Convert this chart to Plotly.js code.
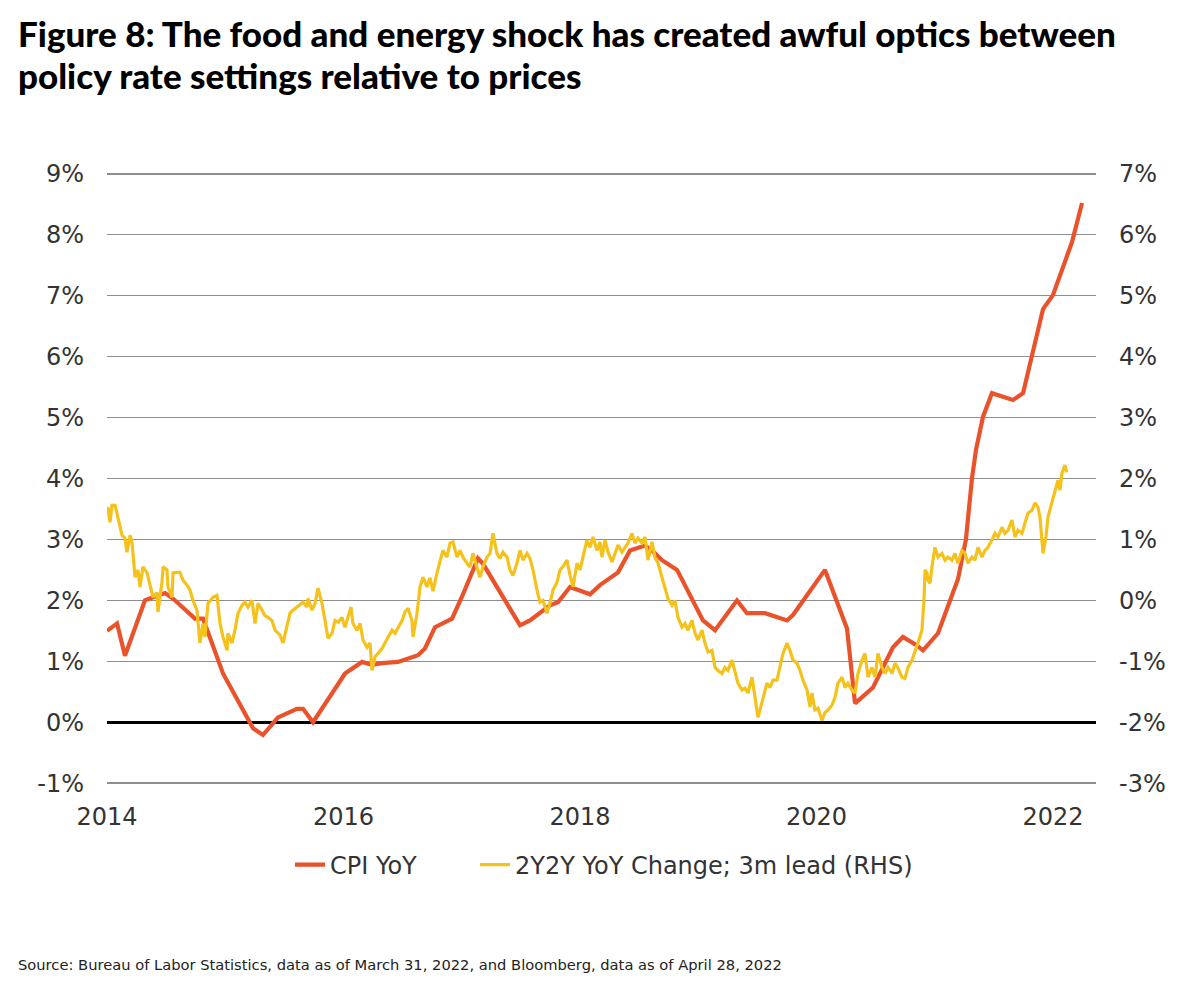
<!DOCTYPE html>
<html>
<head>
<meta charset="utf-8">
<script src="https://cdn.plot.ly/plotly-3.0.1.min.js"></script>
<style>
  html, body { margin: 0; padding: 0; background: #ffffff; }
  #chart { width: 1190px; height: 1002px; }
</style>
</head>
<body>
<div id="chart"></div>
<script>
// ---------- DATA ----------
// x values are decimal years
const xTickVals = [2014, 2016, 2018, 2020, 2022];
const xTickText = ['2014', '2016', '2018', '2020', '2022'];
const leftTickVals = [-1, 0, 1, 2, 3, 4, 5, 6, 7, 8, 9];
const leftTickText = ['-1%', '0%', '1%', '2%', '3%', '4%', '5%', '6%', '7%', '8%', '9%'];
const rightTickVals = [-3, -2, -1, 0, 1, 2, 3, 4, 5, 6, 7];
const rightTickText = ['-3%', '-2%', '-1%', '0%', '1%', '2%', '3%', '4%', '5%', '6%', '7%'];

const cpiName = 'CPI YoY';
const cpiYear = [2014.000, 2014.085, 2014.152, 2014.321, 2014.389, 2014.491, 2014.558, 2014.744, 2014.812, 2014.981,
  2015.235, 2015.319, 2015.446, 2015.607, 2015.658, 2015.742, 2016.013, 2016.157, 2016.241, 2016.326,
  2016.461, 2016.630, 2016.689, 2016.774, 2016.918, 2017.002, 2017.137, 2017.180, 2017.493, 2017.577,
  2017.746, 2017.814, 2017.916, 2018.085, 2018.169, 2018.322, 2018.423, 2018.550, 2018.609, 2018.694,
  2018.821, 2018.947, 2019.040, 2019.142, 2019.328, 2019.412, 2019.565, 2019.751, 2019.801, 2020.072,
  2020.258, 2020.326, 2020.478, 2020.647, 2020.731, 2020.850, 2020.901, 2021.028, 2021.129, 2021.197,
  2021.264, 2021.315, 2021.349, 2021.408, 2021.484, 2021.662, 2021.747, 2021.916, 2022.000, 2022.161,
  2022.246];
const cpiVal = [1.50, 1.62, 1.09, 2.00, 2.05, 2.12, 2.03, 1.70, 1.70, 0.80,
  -0.10, -0.21, 0.08, 0.22, 0.22, 0.00, 0.80, 0.99, 0.94, 0.97,
  0.99, 1.10, 1.21, 1.56, 1.70, 2.06, 2.69, 2.60, 1.59, 1.67,
  1.92, 1.97, 2.22, 2.10, 2.25, 2.46, 2.82, 2.90, 2.82, 2.66,
  2.50, 2.03, 1.67, 1.51, 2.00, 1.79, 1.79, 1.67, 1.76, 2.50,
  1.54, 0.31, 0.57, 1.23, 1.40, 1.26, 1.18, 1.46, 2.00, 2.35,
  3.00, 4.00, 4.47, 5.01, 5.40, 5.29, 5.40, 6.78, 7.01, 7.88,
  8.52];

const yyName = '2Y2Y YoY Change; 3m lead (RHS)';
const yyYear = [
  2014.000, 2014.008, 2014.025, 2014.042, 2014.068, 2014.093, 2014.127, 2014.152, 2014.169, 2014.195,
  2014.211, 2014.237, 2014.262, 2014.279, 2014.304, 2014.338, 2014.364, 2014.389, 2014.423, 2014.431,
  2014.465, 2014.474, 2014.507, 2014.516, 2014.550, 2014.558, 2014.592, 2014.617, 2014.643, 2014.677,
  2014.702, 2014.727, 2014.761, 2014.786, 2014.812, 2014.829, 2014.854, 2014.896, 2014.930, 2014.956,
  2014.981, 2015.015, 2015.023, 2015.057, 2015.082, 2015.108, 2015.142, 2015.167, 2015.192, 2015.226,
  2015.252, 2015.277, 2015.311, 2015.336, 2015.362, 2015.395, 2015.421, 2015.463, 2015.488, 2015.522,
  2015.548, 2015.573, 2015.607, 2015.632, 2015.658, 2015.691, 2015.700, 2015.734, 2015.759, 2015.785,
  2015.818, 2015.844, 2015.869, 2015.903, 2015.928, 2015.954, 2015.987, 2016.013, 2016.038, 2016.063,
  2016.080, 2016.114, 2016.140, 2016.165, 2016.199, 2016.224, 2016.241, 2016.266, 2016.292, 2016.326,
  2016.351, 2016.376, 2016.410, 2016.436, 2016.461, 2016.495, 2016.520, 2016.546, 2016.579, 2016.588,
  2016.622, 2016.647, 2016.672, 2016.706, 2016.731, 2016.757, 2016.791, 2016.816, 2016.841, 2016.875,
  2016.901, 2016.926, 2016.960, 2016.985, 2017.011, 2017.044, 2017.070, 2017.095, 2017.129, 2017.154,
  2017.180, 2017.214, 2017.239, 2017.264, 2017.298, 2017.323, 2017.349, 2017.383, 2017.408, 2017.433,
  2017.467, 2017.493, 2017.518, 2017.552, 2017.577, 2017.603, 2017.636, 2017.662, 2017.687, 2017.721,
  2017.746, 2017.772, 2017.806, 2017.831, 2017.856, 2017.890, 2017.916, 2017.941, 2017.975, 2018.000,
  2018.025, 2018.059, 2018.085, 2018.110, 2018.144, 2018.169, 2018.186, 2018.212, 2018.237, 2018.271,
  2018.296, 2018.322, 2018.355, 2018.381, 2018.406, 2018.440, 2018.465, 2018.491, 2018.524, 2018.550,
  2018.575, 2018.609, 2018.634, 2018.660, 2018.694, 2018.719, 2018.744, 2018.778, 2018.803, 2018.829,
  2018.863, 2018.888, 2018.913, 2018.947, 2018.973, 2018.998, 2019.032, 2019.057, 2019.083, 2019.116,
  2019.142, 2019.167, 2019.201, 2019.226, 2019.252, 2019.286, 2019.311, 2019.336, 2019.370, 2019.395,
  2019.421, 2019.455, 2019.480, 2019.505, 2019.522, 2019.548, 2019.581, 2019.607, 2019.632, 2019.666,
  2019.691, 2019.717, 2019.751, 2019.776, 2019.801, 2019.835, 2019.861, 2019.886, 2019.920, 2019.945,
  2019.962, 2019.987, 2020.013, 2020.047, 2020.072, 2020.097, 2020.131, 2020.157, 2020.182, 2020.216,
  2020.241, 2020.266, 2020.300, 2020.326, 2020.351, 2020.385, 2020.410, 2020.436, 2020.469, 2020.495,
  2020.520, 2020.554, 2020.579, 2020.605, 2020.639, 2020.664, 2020.689, 2020.723, 2020.748, 2020.774,
  2020.808, 2020.833, 2020.858, 2020.892, 2020.909, 2020.918, 2020.935, 2020.943, 2020.960, 2020.977,
  2021.002, 2021.028, 2021.061, 2021.087, 2021.112, 2021.146, 2021.171, 2021.197, 2021.230, 2021.256,
  2021.281, 2021.315, 2021.340, 2021.366, 2021.400, 2021.425, 2021.450, 2021.484, 2021.509, 2021.535,
  2021.569, 2021.594, 2021.620, 2021.653, 2021.679, 2021.704, 2021.738, 2021.763, 2021.789, 2021.823,
  2021.848, 2021.873, 2021.890, 2021.916, 2021.941, 2021.958, 2021.992, 2022.017, 2022.042, 2022.059,
  2022.076, 2022.101, 2022.118];
const yyVal = [
  1.43, 1.53, 1.28, 1.56, 1.56, 1.37, 1.07, 1.02, 0.79, 1.07,
  0.96, 0.38, 0.50, 0.22, 0.55, 0.46, 0.22, 0.05, 0.13, -0.19,
  0.30, 0.55, 0.50, 0.22, 0.05, 0.45, 0.46, 0.46, 0.33, 0.25,
  0.17, 0.00, -0.16, -0.70, -0.38, -0.60, -0.05, 0.05, 0.08, -0.38,
  -0.60, -0.82, -0.54, -0.70, -0.49, -0.21, -0.08, -0.03, -0.11, 0.00,
  -0.38, -0.05, -0.16, -0.25, -0.28, -0.33, -0.49, -0.57, -0.70, -0.44,
  -0.21, -0.16, -0.11, -0.08, -0.03, -0.11, 0.03, -0.16, -0.05, 0.20,
  -0.05, -0.33, -0.62, -0.54, -0.33, -0.36, -0.28, -0.44, -0.28, -0.11,
  -0.38, -0.49, -0.38, -0.65, -0.77, -0.70, -1.15, -0.93, -0.87, -0.79,
  -0.70, -0.60, -0.49, -0.54, -0.44, -0.33, -0.19, -0.13, -0.33, -0.60,
  -0.21, 0.22, 0.38, 0.22, 0.37, 0.15, 0.45, 0.66, 0.82, 0.71,
  0.94, 0.96, 0.71, 0.82, 0.71, 0.61, 0.55, 0.77, 0.55, 0.38,
  0.55, 0.71, 0.77, 1.10, 0.77, 0.69, 0.79, 0.71, 0.50, 0.41,
  0.61, 0.82, 0.66, 0.77, 0.69, 0.50, 0.17, -0.03, 0.00, -0.21,
  -0.05, 0.17, 0.30, 0.50, 0.55, 0.66, 0.41, 0.22, 0.61, 0.50,
  0.71, 0.99, 0.87, 1.04, 0.82, 0.96, 0.71, 0.99, 0.79, 0.63,
  0.77, 0.91, 0.79, 0.86, 0.94, 1.10, 0.94, 1.02, 0.94, 1.04,
  0.66, 0.96, 0.71, 0.61, 0.36, 0.20, 0.03, -0.08, 0.00, -0.28,
  -0.44, -0.38, -0.49, -0.33, -0.54, -0.65, -0.49, -0.70, -0.85, -0.82,
  -1.10, -1.15, -1.20, -1.10, -1.15, -0.98, -1.20, -1.36, -1.47, -1.44,
  -1.52, -1.26, -1.59, -1.92, -1.80, -1.59, -1.36, -1.43, -1.31, -1.31,
  -1.10, -0.87, -0.70, -0.82, -0.98, -1.03, -1.15, -1.31, -1.47, -1.75,
  -1.52, -1.80, -1.77, -1.97, -1.84, -1.80, -1.72, -1.59, -1.36, -1.26,
  -1.43, -1.36, -1.47, -1.52, -1.20, -0.98, -0.87, -1.26, -1.10, -1.26,
  -0.87, -1.10, -1.20, -1.10, -1.20, -1.03, -1.11, -1.26, -1.28, -1.10,
  -0.98, -0.82, -0.70, -0.49, 0.00, 0.50, 0.45, 0.33, 0.28, 0.55,
  0.87, 0.71, 0.77, 0.66, 0.71, 0.66, 0.77, 0.61, 0.82, 0.77,
  0.61, 0.71, 0.66, 0.87, 0.71, 0.82, 0.87, 0.99, 1.10, 1.04,
  1.20, 1.10, 1.15, 1.32, 1.04, 1.15, 1.10, 1.27, 1.43, 1.48,
  1.60, 1.53, 1.37, 0.77, 1.04, 1.37, 1.60, 1.76, 1.97, 1.81,
  2.09, 2.22, 2.10];

const titleLine1 = 'Figure 8: The food and energy shock has created awful optics between';
const titleLine2 = 'policy rate settings relative to prices';
const sourceText = 'Source: Bureau of Labor Statistics, data as of March 31, 2022, and Bloomberg, data as of April 28, 2022';

// ---------- CHART ----------
const RED = '#E9522A';
const YELLOW = '#F5C21C';
const TICKFONT = { family: 'DejaVu Sans, Verdana, sans-serif', size: 24, color: '#333333' };
const TITLEFONT = { family: 'Lato, DejaVu Sans, sans-serif', size: 35, weight: 900, color: '#000000' };

const traces = [
  {
    x: yyYear, y: yyVal, name: yyName, yaxis: 'y2', type: 'scatter', mode: 'lines',
    line: { color: YELLOW, width: 3.2 }, legend: 'legend2'
  },
  {
    x: cpiYear, y: cpiVal, name: cpiName, yaxis: 'y', type: 'scatter', mode: 'lines',
    line: { color: RED, width: 4.2 }, legend: 'legend'
  }
];

const legendFont = { family: 'DejaVu Sans, sans-serif', size: 24, color: '#333333' };

// plot area: x 107..1096, y 172..785 (range padded by 0.03 so edge gridlines stay visible)
const PT = 172, PB = 785;
const PH = PB - PT;
const py = (px) => (PB - px) / PH;

const layout = {
  width: 1190, height: 1002,
  paper_bgcolor: '#ffffff', plot_bgcolor: '#ffffff',
  margin: { l: 107, r: 94, t: PT, b: 1002 - PB, pad: 0 },
  showlegend: true,
  legend: {
    orientation: 'h', x: (290 - 107) / 989, xanchor: 'left', y: py(865), yanchor: 'middle',
    font: legendFont, bgcolor: 'rgba(0,0,0,0)', borderwidth: 0
  },
  legend2: {
    orientation: 'h', x: (475 - 107) / 989, xanchor: 'left', y: py(865), yanchor: 'middle',
    font: legendFont, bgcolor: 'rgba(0,0,0,0)', borderwidth: 0
  },
  xaxis: {
    type: 'linear', range: [2014.0, 2022.364],
    tickvals: xTickVals, ticktext: xTickText,
    showgrid: false, zeroline: false, showline: false,
    ticks: 'outside', ticklen: 10, tickcolor: 'rgba(0,0,0,0)',
    tickfont: TICKFONT, fixedrange: true
  },
  yaxis: {
    range: [-1.03, 9.03], tickvals: leftTickVals, ticktext: leftTickText,
    showgrid: true, gridcolor: '#8e8e8e', gridwidth: 1.4,
    zeroline: true, zerolinecolor: '#000000', zerolinewidth: 3,
    showline: false, ticks: '', ticklabelstandoff: 22,
    tickfont: TICKFONT, fixedrange: true
  },
  yaxis2: {
    range: [-3.03, 7.03], tickvals: rightTickVals, ticktext: rightTickText,
    overlaying: 'y', side: 'right',
    showgrid: false, zeroline: false, showline: false,
    ticks: '', ticklabelstandoff: 22,
    tickfont: TICKFONT, fixedrange: true
  },
  annotations: [
    {
      text: titleLine1, showarrow: false,
      xref: 'paper', yref: 'paper', x: (16 - 107) / 989, y: py(33),
      xanchor: 'left', yanchor: 'middle', font: TITLEFONT
    },
    {
      text: titleLine2, showarrow: false,
      xref: 'paper', yref: 'paper', x: (16 - 107) / 989, y: py(75),
      xanchor: 'left', yanchor: 'middle', font: TITLEFONT
    },
    {
      text: sourceText, showarrow: false,
      xref: 'paper', yref: 'paper', x: (16 - 107) / 989, y: py(964),
      xanchor: 'left', yanchor: 'middle',
      font: { family: 'DejaVu Sans, sans-serif', size: 14.7, color: '#222222' }
    }
  ]
};

Plotly.newPlot('chart', traces, layout, { displayModeBar: false, staticPlot: true });
</script>
</body>
</html>
